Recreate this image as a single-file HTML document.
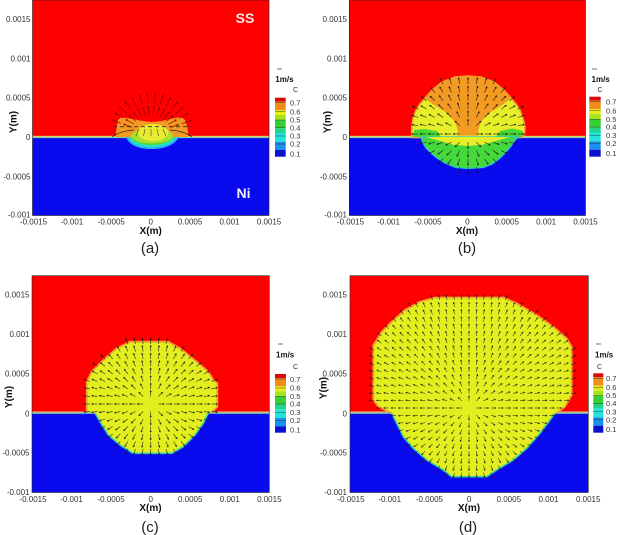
<!DOCTYPE html>
<html><head><meta charset="utf-8">
<style>
html,body{margin:0;padding:0;background:#fff;}
svg{display:block;}
text{font-family:"Liberation Sans",Arial,sans-serif;}
.t{font-size:8px;fill:#333;}
.ax{font-size:10px;font-weight:bold;fill:#111;}
.cap{font-size:15px;fill:#222;}
.cb{font-size:7.5px;fill:#333;}
.ms{font-size:8px;font-weight:bold;fill:#111;}
</style></head>
<body>
<svg id="s" width="619" height="535" viewBox="0 0 619 535" xmlns="http://www.w3.org/2000/svg">
<rect width="619" height="535" fill="#fff"/>

<!-- ================= Panel (a) ================= -->
<rect x="32.5" y="0" width="236.5" height="137" fill="#fe0000"/>
<rect x="32.5" y="137" width="236.5" height="78.5" fill="#0a0aef"/>
<rect x="32.5" y="135.8" width="236.5" height="1.3" fill="#d8d070"/>
<rect x="32.5" y="137" width="236.5" height="1.1" fill="#80d0b0"/>
<polygon points="115.5,137 116.5,128 118,120 121,117.5 130,118.5 140,120.5 151,122 162,121 172,118.5 181,117 185,120 187.5,128 188.5,137" fill="#f29a22"/>
<path d="M126,137 C130,147 142,149 152,149 C163,149 174,146 179,137 Z" fill="#2ab4f0"/>
<path d="M128,137 C132,145 142,147.2 152,147.2 C162,147.2 172,144 177,137 Z" fill="#28e0c8"/>
<path d="M130,137 C134,143 143,145 152,145 C161,145 170,142 175,137 Z" fill="#52d63a"/>
<ellipse cx="152" cy="136" rx="21" ry="7.5" fill="#a8e030"/>
<ellipse cx="153" cy="132.5" rx="15.5" ry="8.5" fill="#e8ec30"/>
<line x1="113" y1="126.7" x2="192" y2="126.7" stroke="#333" stroke-width="0.8" stroke-dasharray="4,3"/>
<path d="M112,137 Q120,131 134,130" fill="none" stroke="#222" stroke-width="0.7"/>
<path d="M192,137 Q184,131 170,130" fill="none" stroke="#222" stroke-width="0.7"/>
<g id="arrA"></g>
<rect x="32.5" y="0" width="236.5" height="215.5" fill="none" stroke="#222" stroke-width="0.6"/>
<text x="245" y="23" text-anchor="middle" style="font-size:14px;font-weight:bold;fill:#f4e8e8">SS</text>
<text x="243.5" y="198" text-anchor="middle" style="font-size:14px;font-weight:bold;fill:#f0f0ff">Ni</text>

<g class="t" text-anchor="end">
<text x="30.5" y="22">0.0015</text>
<text x="30.5" y="61.3">0.001</text>
<text x="30.5" y="100.7">0.0005</text>
<text x="30.5" y="140">0</text>
<text x="30.5" y="179.3">-0.0005</text>
<text x="30.5" y="217.3">-0.001</text>
</g>
<g class="t" text-anchor="middle">
<text x="33.5" y="224.5">-0.0015</text>
<text x="71.9" y="224.5">-0.001</text>
<text x="111.3" y="224.5">-0.0005</text>
<text x="150.7" y="224.5">0</text>
<text x="190.1" y="224.5">0.0005</text>
<text x="229.5" y="224.5">0.001</text>
<text x="269" y="224.5">0.0015</text>
</g>
<text class="ax" x="150.7" y="234" text-anchor="middle">X(m)</text>
<text class="ax" transform="translate(16.5,122) rotate(-90)" text-anchor="middle">Y(m)</text>
<text class="cap" x="150" y="253" text-anchor="middle">(a)</text>

<!-- colorbar a -->
<g transform="translate(275,97.7)">
<rect x="0" y="0" width="10.7" height="4" fill="#d80808"/>
<rect x="0" y="4" width="10.7" height="8.3" fill="#f08c18"/>
<rect x="0" y="12.3" width="10.7" height="5" fill="#e8ee14"/>
<rect x="0" y="17.3" width="10.7" height="5" fill="#a4e41c"/>
<rect x="0" y="22.3" width="10.7" height="8.3" fill="#34d034"/>
<rect x="0" y="30.6" width="10.7" height="4.7" fill="#22d48a"/>
<rect x="0" y="35.3" width="10.7" height="8.7" fill="#22e4dc"/>
<rect x="0" y="44" width="10.7" height="8.3" fill="#1a90ee"/>
<rect x="0" y="52.3" width="10.7" height="6.7" fill="#0c10d0"/>
<g stroke="#222" stroke-width="0.4"><line x1="0" x2="10.7" y1="5" y2="5"/><line x1="0" x2="10.7" y1="14" y2="14"/><line x1="0" x2="10.7" y1="22.3" y2="22.3"/><line x1="0" x2="10.7" y1="30" y2="30"/><line x1="0" x2="10.7" y1="38.3" y2="38.3"/><line x1="0" x2="10.7" y1="46.3" y2="46.3"/></g>
</g>
<g class="cb"><text x="290" y="105.5">0.7</text><text x="290" y="114.3">0.6</text><text x="290" y="122.6">0.5</text><text x="290" y="130.3">0.4</text><text x="290" y="138.6">0.3</text><text x="290" y="146.6">0.2</text><text x="290" y="156.3">0.1</text></g>
<text x="293" y="92" style="font-size:7px;fill:#333">C</text>
<line x1="277" y1="69" x2="282" y2="69" stroke="#333" stroke-width="0.7"/>
<text class="ms" x="275.3" y="82">1m/s</text>

<!-- ================= Panel (b) ================= -->
<rect x="349.3" y="0" width="236.2" height="137" fill="#fe0000"/>
<rect x="349.3" y="137" width="236.2" height="78.5" fill="#0a0aef"/>
<rect x="349.3" y="135.8" width="236.2" height="1.3" fill="#d8d070"/>
<rect x="349.3" y="137" width="236.2" height="1.1" fill="#80d0b0"/>
<polygon points="411.7,137.5 411.7,127 413,118 416,110 420,104 425,98 432,90 442,82 455,77 468,76 481,77 494,82 504,90 511,98 516,104 520,110 523,118 525,127 524.5,134 521,137.5" fill="#e6ee2a" stroke="#f0a030" stroke-width="1.5"/>
<polygon points="425,98 432,90 442,82 455,77 468,76 481,77 494,82 504,90 511,98 505,103 497,108.3 489,113 484,118.3 480,124 478.3,130 478,135.5 458,135.5 457.5,130 456,124 452,118.3 447,113 439,108 431,103" fill="#f29a22"/>
<polygon points="413,137 414,130 425,129 437,131 441,137" fill="#48d838"/>
<polygon points="496,137 500,131 512,128.5 523,131 522,137" fill="#48d838"/>
<path d="M421,137 L423,143 L426,148 L431,153 L437,158 L445,163 L456,167.5 L468,168.5 L483,167.5 L492,164 L500,158 L506,152 L511,146 L515,140 L518,137 Z" fill="#44d83a" stroke="#30c8c8" stroke-width="1.3"/>
<path d="M426,137 L440,141 L452,144.5 L468,146 L484,144.5 L496,141 L510,137 Z" fill="#e6ee2a"/>
<g id="arrB"></g>
<rect x="349.3" y="0" width="236.2" height="215.5" fill="none" stroke="#222" stroke-width="0.6"/>

<g class="t" text-anchor="end">
<text x="347" y="22">0.0015</text>
<text x="347" y="61.3">0.001</text>
<text x="347" y="100.7">0.0005</text>
<text x="347" y="140">0</text>
<text x="347" y="179.3">-0.0005</text>
<text x="347" y="217.3">-0.001</text>
</g>
<g class="t" text-anchor="middle">
<text x="350.5" y="224.5">-0.0015</text>
<text x="388.6" y="224.5">-0.001</text>
<text x="428" y="224.5">-0.0005</text>
<text x="467.4" y="224.5">0</text>
<text x="506.7" y="224.5">0.0005</text>
<text x="546.1" y="224.5">0.001</text>
<text x="585.5" y="224.5">0.0015</text>
</g>
<text class="ax" x="467" y="234" text-anchor="middle">X(m)</text>
<text class="ax" transform="translate(330.5,122) rotate(-90)" text-anchor="middle">Y(m)</text>
<text class="cap" x="467" y="253" text-anchor="middle">(b)</text>

<!-- colorbar b -->
<g transform="translate(589.3,96.7)">
<rect x="0" y="0" width="11.4" height="4" fill="#d80808"/>
<rect x="0" y="4" width="11.4" height="8.4" fill="#f08c18"/>
<rect x="0" y="12.4" width="11.4" height="5" fill="#e8ee14"/>
<rect x="0" y="17.4" width="11.4" height="5.2" fill="#a4e41c"/>
<rect x="0" y="22.6" width="11.4" height="8.4" fill="#34d034"/>
<rect x="0" y="31" width="11.4" height="4.8" fill="#22d48a"/>
<rect x="0" y="35.8" width="11.4" height="8.8" fill="#22e4dc"/>
<rect x="0" y="44.6" width="11.4" height="8.4" fill="#1a90ee"/>
<rect x="0" y="53" width="11.4" height="7" fill="#0c10d0"/>
<g stroke="#222" stroke-width="0.4"><line x1="0" x2="11.4" y1="5" y2="5"/><line x1="0" x2="11.4" y1="14" y2="14"/><line x1="0" x2="11.4" y1="22.6" y2="22.6"/><line x1="0" x2="11.4" y1="30.4" y2="30.4"/><line x1="0" x2="11.4" y1="38.8" y2="38.8"/><line x1="0" x2="11.4" y1="47" y2="47"/></g>
</g>
<g class="cb"><text x="606" y="104.5">0.7</text><text x="606" y="113.3">0.6</text><text x="606" y="121.8">0.5</text><text x="606" y="129.6">0.4</text><text x="606" y="138">0.3</text><text x="606" y="146.2">0.2</text><text x="606" y="155.8">0.1</text></g>
<text x="597.5" y="92" style="font-size:7px;fill:#333">C</text>
<line x1="592" y1="69" x2="597" y2="69" stroke="#333" stroke-width="0.7"/>
<text class="ms" x="591.5" y="82">1m/s</text>

<!-- ================= Panel (c) ================= -->
<rect x="32" y="275.7" width="237.3" height="137" fill="#fe0000"/>
<rect x="32" y="412.7" width="237.3" height="79.8" fill="#0a0aef"/>
<rect x="32" y="411.5" width="237.3" height="1.3" fill="#d8d070"/>
<rect x="32" y="412.7" width="237.3" height="1.1" fill="#80d0b0"/>
<path d="M86.7,412 L86.7,381.7 L91.7,371.7 L103.3,360 L116.7,348.3 L130,341.7 L168.3,341.7 L180,348.3 L196.7,361.7 L208.3,371.7 L213.3,380 L217.3,383.3 L217.3,406.7 L211.7,412.5 L208.3,413 L203.3,423.3 L195,435 L183.3,446.7 L171.7,453.3 L133,453.3 L120,445 L108.3,435 L100,421.7 L95,413 Z" fill="#e2ee1e"/>
<path d="M86.7,412 L86.7,381.7 L91.7,371.7 L103.3,360 L116.7,348.3 L130,341.7 L168.3,341.7 L180,348.3 L196.7,361.7 L208.3,371.7 L213.3,380 L217.3,383.3 L217.3,406.7 L211.7,412.5" fill="none" stroke="#f0a030" stroke-width="1.8"/>
<path d="M208.3,413 L203.3,423.3 L195,435 L183.3,446.7 L171.7,453.3 L133,453.3 L120,445 L108.3,435 L100,421.7 L95,413" fill="none" stroke="#38d0a0" stroke-width="1.6"/>
<g id="arrC"></g>
<rect x="32" y="275.7" width="237.3" height="216.8" fill="none" stroke="#222" stroke-width="0.6"/>

<g class="t" text-anchor="end">
<text x="29.5" y="297.3">0.0015</text>
<text x="29.5" y="337">0.001</text>
<text x="29.5" y="376.3">0.0005</text>
<text x="29.5" y="416.3">0</text>
<text x="29.5" y="455.7">-0.0005</text>
<text x="29.5" y="495">-0.001</text>
</g>
<g class="t" text-anchor="middle">
<text x="33" y="502">-0.0015</text>
<text x="71.5" y="502">-0.001</text>
<text x="111.1" y="502">-0.0005</text>
<text x="150.7" y="502">0</text>
<text x="190.2" y="502">0.0005</text>
<text x="229.8" y="502">0.001</text>
<text x="269.3" y="502">0.0015</text>
</g>
<text class="ax" x="150.5" y="511" text-anchor="middle">X(m)</text>
<text class="ax" transform="translate(12,397) rotate(-90)" text-anchor="middle">Y(m)</text>
<text class="cap" x="150" y="532" text-anchor="middle">(c)</text>

<!-- colorbar c -->
<g transform="translate(275,374)">
<rect x="0" y="0" width="11" height="4" fill="#d80808"/>
<rect x="0" y="4" width="11" height="8.3" fill="#f08c18"/>
<rect x="0" y="12.3" width="11" height="5" fill="#e8ee14"/>
<rect x="0" y="17.3" width="11" height="5" fill="#a4e41c"/>
<rect x="0" y="22.3" width="11" height="8.3" fill="#34d034"/>
<rect x="0" y="30.6" width="11" height="4.7" fill="#22d48a"/>
<rect x="0" y="35.3" width="11" height="8.7" fill="#22e4dc"/>
<rect x="0" y="44" width="11" height="8.3" fill="#1a90ee"/>
<rect x="0" y="52.3" width="11" height="6.4" fill="#0c10d0"/>
<g stroke="#222" stroke-width="0.4"><line x1="0" x2="11" y1="5" y2="5"/><line x1="0" x2="11" y1="14" y2="14"/><line x1="0" x2="11" y1="22.3" y2="22.3"/><line x1="0" x2="11" y1="30" y2="30"/><line x1="0" x2="11" y1="38.3" y2="38.3"/><line x1="0" x2="11" y1="46.3" y2="46.3"/></g>
</g>
<g class="cb"><text x="290" y="381.8">0.7</text><text x="290" y="390.6">0.6</text><text x="290" y="398.9">0.5</text><text x="290" y="406.6">0.4</text><text x="290" y="414.9">0.3</text><text x="290" y="422.9">0.2</text><text x="290" y="432.4">0.1</text></g>
<text x="293" y="369" style="font-size:7px;fill:#333">C</text>
<line x1="278" y1="344" x2="283" y2="344" stroke="#333" stroke-width="0.7"/>
<text class="ms" x="276" y="357.5">1m/s</text>

<!-- ================= Panel (d) ================= -->
<rect x="350" y="275.7" width="238.3" height="137" fill="#fe0000"/>
<rect x="350" y="412.7" width="238.3" height="79.8" fill="#0a0aef"/>
<rect x="350" y="411.5" width="238.3" height="1.3" fill="#d8d070"/>
<rect x="350" y="412.7" width="238.3" height="1.1" fill="#80d0b0"/>
<path d="M391.7,413 L388.3,411.7 L378.3,406.7 L373.3,400 L373.3,345 L376.7,340 L381.7,331.7 L391.7,321.7 L405,310 L420,301.7 L435,297.5 L503.3,297.5 L516.7,303.3 L536.7,315 L553.3,326.7 L566.7,338.3 L571.7,346.7 L571.7,395 L565,406.7 L558.3,411.7 L556,413 L555,413.3 L550,420 L540,433.3 L526.7,448.3 L513.3,460 L496.7,470 L486.7,476.7 L451.7,476.7 L443.3,470 L426.7,460 L413.3,448.3 L403.3,436.7 L396.7,423.3 L391.7,413.3 Z" fill="#e2ee1e"/>
<path d="M391.7,413 L388.3,411.7 L378.3,406.7 L373.3,400 L373.3,345 L376.7,340 L381.7,331.7 L391.7,321.7 L405,310 L420,301.7 L435,297.5 L503.3,297.5 L516.7,303.3 L536.7,315 L553.3,326.7 L566.7,338.3 L571.7,346.7 L571.7,395 L565,406.7 L558.3,411.7 L556,413" fill="none" stroke="#f0a030" stroke-width="1.8"/>
<path d="M555,413.3 L550,420 L540,433.3 L526.7,448.3 L513.3,460 L496.7,470 L486.7,476.7 L451.7,476.7 L443.3,470 L426.7,460 L413.3,448.3 L403.3,436.7 L396.7,423.3 L391.7,413.3" fill="none" stroke="#38d0a0" stroke-width="1.6"/>
<g id="arrD"></g>
<rect x="350" y="275.7" width="238.3" height="216.8" fill="none" stroke="#222" stroke-width="0.6"/>

<g class="t" text-anchor="end">
<text x="347" y="297.3">0.0015</text>
<text x="347" y="337">0.001</text>
<text x="347" y="376.3">0.0005</text>
<text x="347" y="416.3">0</text>
<text x="347" y="455.7">-0.0005</text>
<text x="347" y="495">-0.001</text>
</g>
<g class="t" text-anchor="middle">
<text x="351" y="502">-0.0015</text>
<text x="389.7" y="502">-0.001</text>
<text x="429.4" y="502">-0.0005</text>
<text x="469.1" y="502">0</text>
<text x="508.8" y="502">0.0005</text>
<text x="548.5" y="502">0.001</text>
<text x="588.2" y="502">0.0015</text>
</g>
<text class="ax" x="469" y="511" text-anchor="middle">X(m)</text>
<text class="ax" transform="translate(326.5,388) rotate(-90)" text-anchor="middle">Y(m)</text>
<text class="cap" x="468" y="532" text-anchor="middle">(d)</text>

<!-- colorbar d -->
<g transform="translate(593.3,373.3)">
<rect x="0" y="0" width="10" height="4" fill="#d80808"/>
<rect x="0" y="4" width="10" height="8.4" fill="#f08c18"/>
<rect x="0" y="12.4" width="10" height="5" fill="#e8ee14"/>
<rect x="0" y="17.4" width="10" height="5" fill="#a4e41c"/>
<rect x="0" y="22.4" width="10" height="8.3" fill="#34d034"/>
<rect x="0" y="30.7" width="10" height="4.7" fill="#22d48a"/>
<rect x="0" y="35.4" width="10" height="8.7" fill="#22e4dc"/>
<rect x="0" y="44.1" width="10" height="8.3" fill="#1a90ee"/>
<rect x="0" y="52.4" width="10" height="7" fill="#0c10d0"/>
<g stroke="#222" stroke-width="0.4"><line x1="0" x2="10" y1="5" y2="5"/><line x1="0" x2="10" y1="14" y2="14"/><line x1="0" x2="10" y1="22.4" y2="22.4"/><line x1="0" x2="10" y1="30.1" y2="30.1"/><line x1="0" x2="10" y1="38.4" y2="38.4"/><line x1="0" x2="10" y1="46.4" y2="46.4"/></g>
</g>
<g class="cb"><text x="606" y="381">0.7</text><text x="606" y="389.8">0.6</text><text x="606" y="398.2">0.5</text><text x="606" y="406">0.4</text><text x="606" y="414.3">0.3</text><text x="606" y="422.3">0.2</text><text x="606" y="432">0.1</text></g>
<text x="597" y="369" style="font-size:7px;fill:#333">C</text>
<line x1="596" y1="344" x2="601" y2="344" stroke="#333" stroke-width="0.7"/>
<text class="ms" x="595" y="357.5">1m/s</text>
</svg>

<script>
(function(){
var NS="http://www.w3.org/2000/svg";
function P(s){return s.trim().split(/\s+/).map(function(p){var a=p.split(',');return [parseFloat(a[0]),parseFloat(a[1])];});}
function inside(pt,poly){var x=pt[0],y=pt[1],c=false;for(var i=0,j=poly.length-1;i<poly.length;j=i++){var xi=poly[i][0],yi=poly[i][1],xj=poly[j][0],yj=poly[j][1];if(((yi>y)!=(yj>y))&&(x<(xj-xi)*(y-yi)/(yj-yi)+xi))c=!c;}return c;}
function seg(g,x1,y1,x2,y2,col,w,op){var l=document.createElementNS(NS,'line');l.setAttribute('x1',x1.toFixed(2));l.setAttribute('y1',y1.toFixed(2));l.setAttribute('x2',x2.toFixed(2));l.setAttribute('y2',y2.toFixed(2));l.setAttribute('stroke',col);l.setAttribute('stroke-width',w);l.setAttribute('stroke-opacity',op);g.appendChild(l);}
function arrow(g,x,y,ux,uy,len,col,w,op){var tx=x+ux*len,ty=y+uy*len;seg(g,x,y,tx,ty,col,w,op);var h=Math.min(1.8,len*0.35),c=Math.cos(0.45),s=Math.sin(0.45);var bx=-ux,by=-uy;seg(g,tx,ty,tx+h*(bx*c-by*s),ty+h*(bx*s+by*c),col,w,op);seg(g,tx,ty,tx+h*(bx*c+by*s),ty+h*(-bx*s+by*c),col,w,op);}
function field(id,poly,cx,cy,dx,dy,len,col,w,op){var g=document.getElementById(id);for(var j=-20;j<=20;j++){for(var i=-20;i<=20;i++){var x=cx+i*dx,y=cy+j*dy;if(!inside([x,y],poly))continue;var vx=x-cx,vy=y-cy,d=Math.sqrt(vx*vx+vy*vy);if(d<2)continue;arrow(g,x,y,vx/d,vy/d,len,col,w,op);}}}
var polyB=P("411.7,137 411.7,127 413,118 416,110 420,104 425,98 432,90 442,82 455,77 468,76 481,77 494,82 504,90 511,98 516,104 520,110 523,118 525,127 524.5,134 521,137 518,137 515,140 511,146 506,152 500,158 492,164 483,167.5 468,168.5 456,167.5 445,163 437,158 431,153 426,148 423,143 421,137");
var polyC=P("86.7,412 86.7,381.7 91.7,371.7 103.3,360 116.7,348.3 130,341.7 168.3,341.7 180,348.3 196.7,361.7 208.3,371.7 213.3,380 217.3,383.3 217.3,406.7 211.7,412.5 208.3,413 203.3,423.3 195,435 183.3,446.7 171.7,453.3 133,453.3 120,445 108.3,435 100,421.7 95,413");
var polyD=P("391.7,413 388.3,411.7 378.3,406.7 373.3,400 373.3,345 376.7,340 381.7,331.7 391.7,321.7 405,310 420,301.7 435,297.5 503.3,297.5 516.7,303.3 536.7,315 553.3,326.7 566.7,338.3 571.7,346.7 571.7,395 565,406.7 558.3,411.7 556,413 555,413.3 550,420 540,433.3 526.7,448.3 513.3,460 496.7,470 486.7,476.7 451.7,476.7 443.3,470 426.7,460 413.3,448.3 403.3,436.7 396.7,423.3 391.7,413.3");
field('arrB',polyB,468,134,8.3,8.3,6.5,'#1a1a1a',0.7,0.85);
field('arrC',polyC,150.7,404,7.6,7.5,6,'#1a1a1a',0.65,0.85);
field('arrD',polyD,469,408,7.3,7.2,5,'#1a1a1a',0.6,0.85);
// panel (a): dark red arrows above the small pool
var gA=document.getElementById('arrA');
for(var a=18;a<=162;a+=11){var r=a*Math.PI/180,ux=Math.cos(r),uy=-Math.sin(r);
 arrow(gA,151+ux*20,133+uy*18,ux,uy,9,'#8a0000',0.9,0.75);
 arrow(gA,151+ux*32,133+uy*30,ux,uy,10,'#8a0000',0.9,0.75);}
for(var k=-2;k<=2;k++){seg(gA,151+k*6,129,151+k*7.5,136,'#222',0.6,0.8);}
})();
</script>
</body></html>
